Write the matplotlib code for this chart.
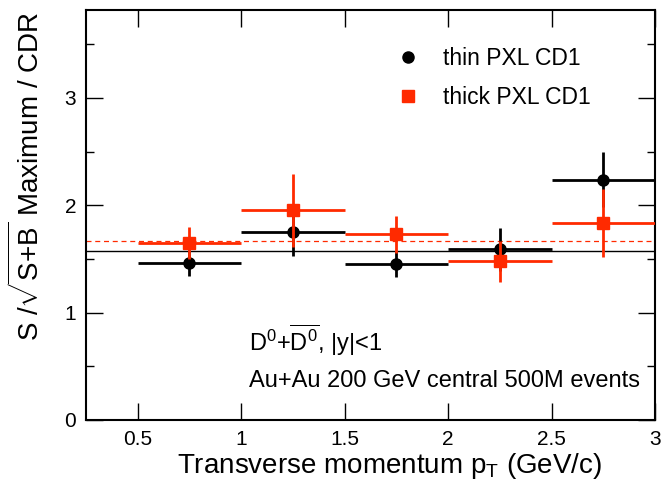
import matplotlib
matplotlib.use("Agg")
import matplotlib.pyplot as plt

plt.rcParams['font.family'] = ['Liberation Sans', 'DejaVu Sans']
plt.rcParams['mathtext.fontset'] = 'custom'
plt.rcParams['mathtext.rm'] = 'Liberation Sans'
plt.rcParams['mathtext.it'] = 'Liberation Sans'
plt.rcParams['mathtext.default'] = 'regular'

# pT bins
pt_centers = [0.75, 1.25, 1.75, 2.25, 2.75]
pt_halfwidth = [0.25, 0.25, 0.25, 0.25, 0.25]

# thin PXL CD1
thin_values = [1.46, 1.75, 1.45, 1.59, 2.24]
thin_errors = [0.12, 0.22, 0.12, 0.20, 0.26]

# thick PXL CD1
thick_values = [1.65, 1.955, 1.73, 1.48, 1.835]
thick_errors = [0.15, 0.34, 0.17, 0.19, 0.32]

# averages
thin_mean = 1.57
thick_mean = 1.665

RED = '#ff2a00'

fig = plt.figure(figsize=(6.68, 4.87), dpi=100)
ax = fig.add_axes([0.1287, 0.1376, 0.8518, 0.8419])

ax.axhline(thin_mean, color='black', lw=1.0, zorder=1)
ax.axhline(thick_mean, color=RED, lw=0.9, ls=(0, (4, 3)), zorder=1)

ax.errorbar(pt_centers, thin_values, xerr=pt_halfwidth, yerr=thin_errors,
            fmt='o', color='black', ms=8, elinewidth=2, capsize=0,
            label='thin PXL CD1', zorder=3)
ax.errorbar(pt_centers, thick_values, xerr=pt_halfwidth, yerr=thick_errors,
            fmt='s', color=RED, ms=8, elinewidth=2, capsize=0,
            label='thick PXL CD1', zorder=4)

ax.set_xlim(0.25, 3.0)
ax.set_ylim(0, 3.82)
ax.set_xticks([0.5, 1, 1.5, 2, 2.5, 3])
ax.set_xticklabels(['0.5', '1', '1.5', '2', '2.5', '3'])
ax.set_yticks([0, 1, 2, 3])
ax.set_yticks([0.5, 1.5, 2.5, 3.5], minor=True)
ax.tick_params(which='both', direction='in', top=True, right=True,
               labelsize=15, width=1)
ax.tick_params(which='major', length=12, pad=7)
ax.tick_params(which='minor', length=6)
for s in ax.spines.values():
    s.set_linewidth(1.5)

ax.set_xlabel('Transverse momentum p$_T$ (GeV/c)', fontsize=20, ha='right')
ax.xaxis.set_label_coords(0.907, -0.075)
ax.set_ylabel(r'S /$\sqrt{S{+}B}$ Maximum / CDR', fontsize=20, ha='right')
ax.yaxis.set_label_coords(-0.072, 0.995)

h, l = ax.get_legend_handles_labels()
hm = [hh[0] for hh in h]
ax.legend(hm, l, loc='upper left', bbox_to_anchor=(0.51, 0.96), frameon=False,
          fontsize=16.5, handlelength=1.0, handletextpad=1.0, labelspacing=0.7)

ax.text(1.04, 0.64, r'D$^0$+$\overline{D^0}$, |y|<1', fontsize=17)
ax.text(1.04, 0.31, 'Au+Au 200 GeV central 500M events', fontsize=17)

fig.savefig('out.png', dpi=100)
